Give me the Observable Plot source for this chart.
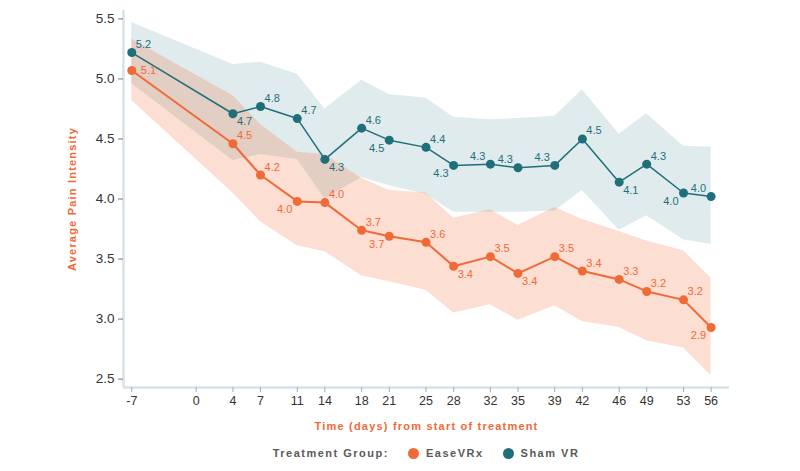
<!DOCTYPE html>
<html><head><meta charset="utf-8">
<script src="https://cdn.jsdelivr.net/npm/d3@7"></script>
<script src="https://cdn.jsdelivr.net/npm/@observablehq/plot@0.6"></script>
<style>
body{margin:0;background:#fff;font-family:"Liberation Sans",Arial,Helvetica,sans-serif;}
#chart{width:800px;}
#chart svg{display:block;}
.legend{width:800px;height:26px;display:flex;align-items:center;justify-content:center;padding-left:123px;padding-right:71px;box-sizing:border-box;font-size:11px;font-weight:bold;letter-spacing:1.5px;color:#5a5a5a;font-family:"Liberation Sans",Arial,Helvetica,sans-serif;}
.legend .dot{display:inline-block;width:11px;height:11px;border-radius:50%;margin-right:7px;}
.legend .item{display:flex;align-items:center;margin-left:19px;}
</style></head><body><div id="chart"></div><div id="legend" class="legend"></div>
<script>
const days = [-7, 4, 7, 11, 14, 18, 21, 25, 28, 32, 35, 39, 42, 46, 49, 53, 56];
const xTicks = [-7, 0, 4, 7, 11, 14, 18, 21, 25, 28, 32, 35, 39, 42, 46, 49, 53, 56];
const yTicks = [2.5, 3.0, 3.5, 4.0, 4.5, 5.0, 5.5];

const groups = ["EaseVRx", "Sham VR"];
const colors = ["#f06a37", "#1f6f7b"];
const yTitle = "Average Pain Intensity";
const xTitle = "Time (days) from start of treatment";
const legendTitle = "Treatment Group:";

const easeMean  = [5.07, 4.46, 4.20, 3.98, 3.97, 3.74, 3.69, 3.64, 3.44, 3.52, 3.38, 3.52, 3.40, 3.33, 3.23, 3.16, 2.93];
const easeLower = [4.82, 4.05, 3.81, 3.61, 3.56, 3.36, 3.31, 3.24, 3.05, 3.12, 2.99, 3.11, 2.98, 2.93, 2.82, 2.76, 2.53];
const easeUpper = [5.33, 4.86, 4.62, 4.39, 4.37, 4.17, 4.07, 4.05, 3.84, 3.91, 3.78, 3.93, 3.83, 3.73, 3.65, 3.57, 3.34];

const shamMean  = [5.22, 4.71, 4.77, 4.67, 4.33, 4.59, 4.49, 4.43, 4.28, 4.29, 4.26, 4.28, 4.50, 4.14, 4.29, 4.05, 4.02];
const shamLower = [4.96, 4.32, 4.37, 4.33, 4.00, 4.18, 4.11, 4.04, 3.89, 3.89, 3.89, 3.90, 4.07, 3.74, 3.86, 3.66, 3.62];
const shamUpper = [5.47, 5.12, 5.14, 5.04, 4.75, 4.99, 4.87, 4.84, 4.68, 4.66, 4.67, 4.69, 4.91, 4.54, 4.71, 4.44, 4.43];

// label placement around each point
const easePos = ["e","ne","ne","sw","ne","ne","sw","ne","se","ne","se","ne","ne","ne","ne","ne","sw"];
const shamPos = ["ne","se","ne","ne","se","ne","sw","ne","sw","nw","nw","nw","ne","se","ne","sw","nw"];

const xDomain = [-7.9, 58];
const yDomain = [2.43, 5.57];

const fmt = d3.format(".1f");
function rows(group, mean, lower, upper, pos) {
  return days.map((d, i) => ({day: d, group, mean: mean[i], lower: lower[i], upper: upper[i], pos: pos[i], label: fmt(mean[i])}));
}
const ease = rows(groups[0], easeMean, easeLower, easeUpper, easePos);
const sham = rows(groups[1], shamMean, shamLower, shamUpper, shamPos);

const offsets = {
  ne: {dx: 4, dy: -8, textAnchor: "start"},
  se: {dx: 4, dy: 8, textAnchor: "start"},
  sw: {dx: -5, dy: 8, textAnchor: "end"},
  nw: {dx: -5, dy: -8, textAnchor: "end"},
  e:  {dx: 9, dy: 0, textAnchor: "start"}
};
function labelMarks(data, color) {
  return Object.keys(offsets).map(p => Plot.text(data.filter(d => d.pos === p), {
    x: "day", y: "mean", text: "label", fill: color, fontSize: 11, ...offsets[p]
  }));
}

const chart = Plot.plot({
  width: 800,
  height: 440,
  marginLeft: 123,
  marginRight: 71,
  marginTop: 10,
  marginBottom: 53,
  style: {fontFamily: "'Liberation Sans', Arial, Helvetica, sans-serif", color: "#333", background: "#fff"},
  x: {domain: xDomain},
  y: {domain: yDomain},
  marks: [
    Plot.areaY(sham, {x: "day", y1: "lower", y2: "upper", fill: colors[1], fillOpacity: 0.14}),
    Plot.areaY(ease, {x: "day", y1: "lower", y2: "upper", fill: colors[0], fillOpacity: 0.22}),
    Plot.ruleX([xDomain[0]], {stroke: "#d4e2e9", strokeWidth: 2.5}),
    Plot.ruleY([yDomain[0]], {stroke: "#d4e2e9", strokeWidth: 2.5}),
    Plot.axisY({ticks: yTicks, tickFormat: fmt, tickSize: 5, stroke: "#777", fill: "#333", fontSize: 13.5, label: null}),
    Plot.axisX({ticks: xTicks, tickFormat: d => String(d), tickSize: 5, tickPadding: 4, stroke: "#aaa", fill: "#333", fontSize: 12.5, label: null}),
    Plot.line(sham, {x: "day", y: "mean", stroke: colors[1], strokeWidth: 1.5}),
    Plot.line(ease, {x: "day", y: "mean", stroke: colors[0], strokeWidth: 2}),
    Plot.dot(sham, {x: "day", y: "mean", r: 4.5, fill: colors[1]}),
    Plot.dot(ease, {x: "day", y: "mean", r: 4.5, fill: colors[0]}),
    ...labelMarks(sham, colors[1]),
    ...labelMarks(ease, colors[0]),
    Plot.text([yTitle], {frameAnchor: "left", textAnchor: "middle", lineAnchor: "middle", rotate: -90, dx: -51, fill: colors[0], fontWeight: "bold", fontSize: 11}),
    Plot.text([xTitle], {frameAnchor: "bottom", textAnchor: "middle", lineAnchor: "middle", dy: 39, fill: colors[0], fontWeight: "bold", fontSize: 11})
  ]
});
document.getElementById("chart").appendChild(chart);
d3.select(chart).selectAll("text")
  .filter(function() { return this.textContent === yTitle || this.textContent === xTitle; })
  .style("letter-spacing", "1.2px");

const legend = document.getElementById("legend");
const title = document.createElement("span");
title.textContent = legendTitle;
legend.appendChild(title);
groups.forEach((g, i) => {
  const item = document.createElement("span");
  item.className = "item";
  const dot = document.createElement("span");
  dot.className = "dot";
  dot.style.background = colors[i];
  item.appendChild(dot);
  const t = document.createElement("span");
  t.textContent = g;
  item.appendChild(t);
  legend.appendChild(item);
});
</script>
</body></html>
